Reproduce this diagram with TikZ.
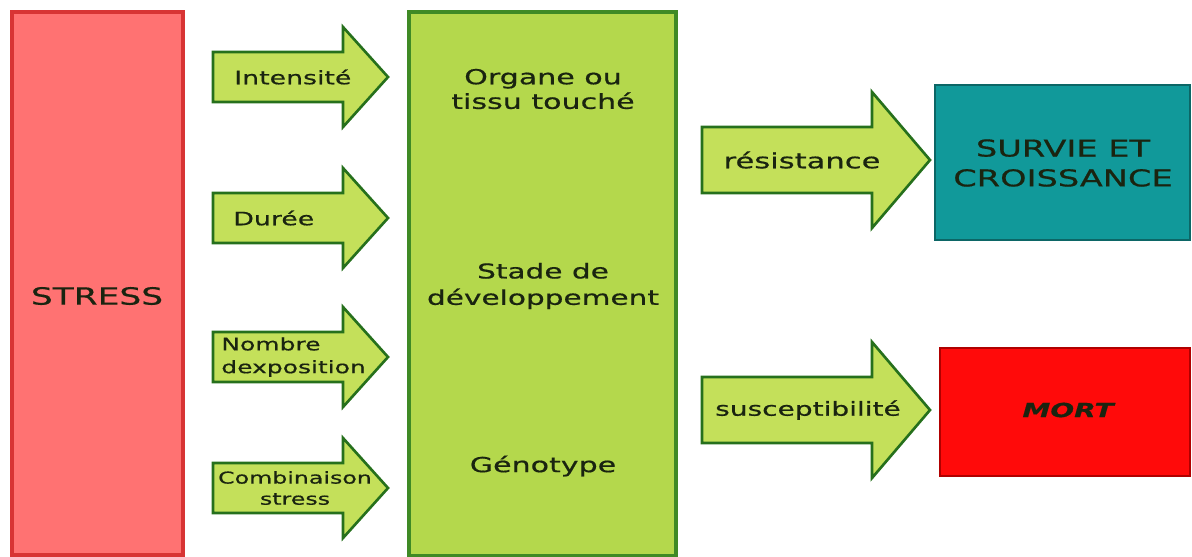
\documentclass[tikz,border=0pt]{standalone}
\usepackage{fontspec}
\setmainfont{DejaVu Sans}[FakeStretch=1.45, FakeBold=0.6]
\usepackage{tikz}
\usetikzlibrary{calc}

\definecolor{stressfill}{HTML}{FF7272}
\definecolor{stressline}{HTML}{D83434}
\definecolor{midfill}{HTML}{B4D84C}
\definecolor{midline}{HTML}{3F8A25}
\definecolor{arrowfill}{HTML}{C4E05A}
\definecolor{arrowline}{HTML}{26701C}
\definecolor{survfill}{HTML}{11999A}
\definecolor{survline}{HTML}{0C6666}
\definecolor{mortfill}{HTML}{FF0A0A}
\definecolor{mortline}{HTML}{B00000}
\definecolor{txtcol}{HTML}{1A2410}

\begin{document}
\begin{tikzpicture}[x=0.02cm, y=-0.02cm,
        stressbox/.style={draw=stressline, fill=stressfill, line width=1.8pt},
        midbox/.style={draw=midline, fill=midfill, line width=1.8pt},
        survbox/.style={draw=survline, fill=survfill, line width=1.5pt},
        mortbox/.style={draw=mortline, fill=mortfill, line width=1.5pt},
        blockarrow/.style={draw=arrowline, fill=arrowfill, line width=1.5pt, line join=miter},
        txt/.style={text=txtcol, inner sep=0pt, align=center}
        ]
            \useasboundingbox (0,0) rectangle (1192,556);

            % boxes
            \draw[stressbox] (12,12) rectangle (183,555);
            \draw[midbox] (409,12) rectangle (676,556);
            \draw[survbox] (935,85) rectangle (1190,240);
            \draw[mortbox] (940,348) rectangle (1190,476);

            % arrows stress -> plant
            \foreach \y in {77,218,357,488}
                \draw[blockarrow] (213,\y-25) -- (343,\y-25) -- (343,\y-50) -- (388,\y)
                    -- (343,\y+50) -- (343,\y+25) -- (213,\y+25) -- cycle;

            % arrows plant -> outcome
            \foreach \y in {160,410}
                \draw[blockarrow] (702,\y-33) -- (872,\y-33) -- (872,\y-68) -- (930,\y)
                    -- (872,\y+68) -- (872,\y+33) -- (702,\y+33) -- cycle;

            \node[txt, font=\fontsize{13.5}{16}\selectfont] (stress) at (97,296) {STRESS};

            \node[txt, anchor=west, font=\fontsize{10.5}{13}\selectfont] (intens) at (234,77) {Intensité};
            \node[txt, anchor=west, font=\fontsize{10.5}{13}\selectfont] (duree) at (233,218) {Durée};
            \node[txt, anchor=west, align=left, font=\fontsize{9.8}{13}\selectfont] (nombre) at (221,357) {Nombre\\dexposition};
            \node[txt, font=\fontsize{9.3}{12}\selectfont] (combi) at (295,488) {Combinaison\\stress};

            \node[txt, font=\fontsize{11.8}{14}\selectfont] (organe) at (543,89) {Organe ou\\tissu touché};
            \node[txt, font=\fontsize{11.6}{15}\selectfont] (stade) at (543,286) {Stade de\\développement};
            \node[txt, font=\fontsize{11.8}{14}\selectfont] (geno) at (543,466) {Génotype};

            \node[txt, font=\fontsize{12}{14}\selectfont] (resist) at (802,160) {résistance};
            \node[txt, font=\fontsize{11}{14}\selectfont] (suscept) at (808,410) {susceptibilité};

            \node[txt, font=\fontsize{13.2}{17}\selectfont] (survie) at (1063,163) {SURVIE ET\\CROISSANCE};
            \node[txt, font=\fontsize{11}{14}\bfseries\itshape] (mort) at (1068,410) {MORT};

        \end{tikzpicture}
\end{document}
